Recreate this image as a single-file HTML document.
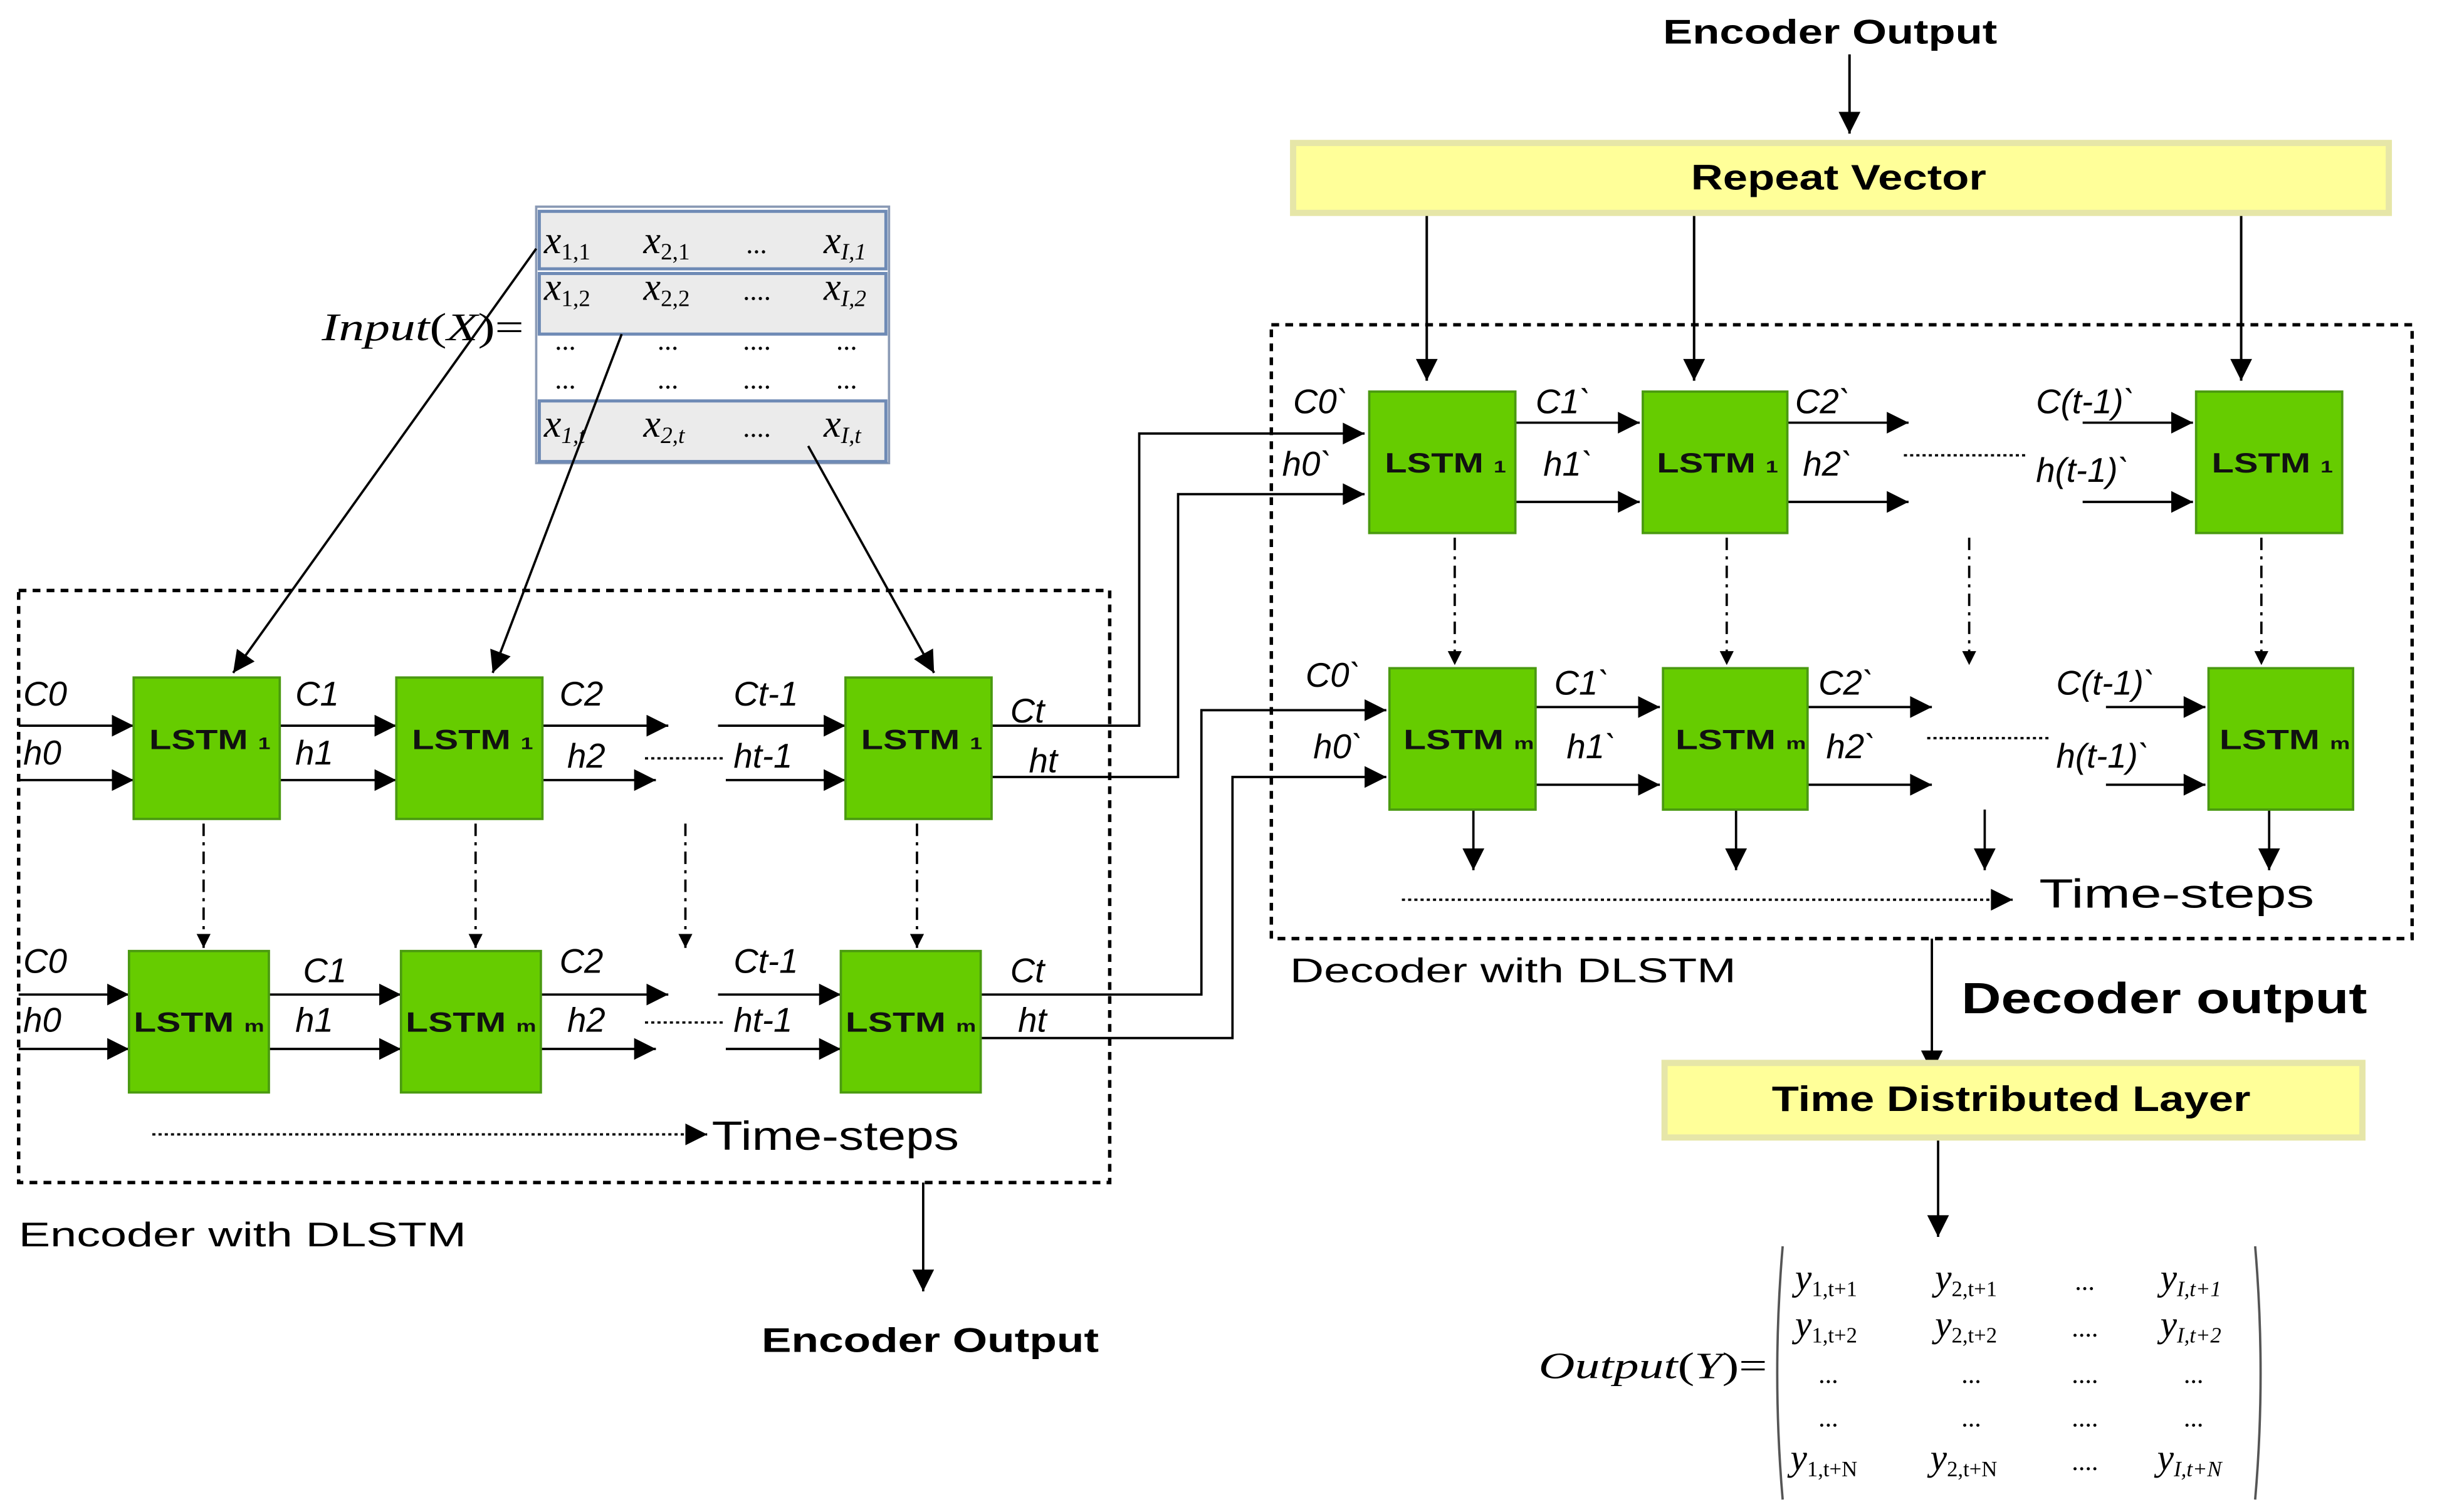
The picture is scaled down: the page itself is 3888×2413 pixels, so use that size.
<!DOCTYPE html>
<html><head><meta charset="utf-8"><style>html,body{margin:0;padding:0;background:#fff}svg{display:block}</style></head><body>
<svg width="3888" height="2413" viewBox="0 0 1568 973" preserveAspectRatio="none" xmlns="http://www.w3.org/2000/svg" font-family="Liberation Sans, sans-serif">
<defs>
<marker id="a" viewBox="0 0 10 10" refX="10" refY="5" markerWidth="11" markerHeight="9" orient="auto" markerUnits="userSpaceOnUse"><path d="M0,0L10,5L0,10z" fill="#000"/></marker>
<marker id="b" viewBox="0 0 10 10" refX="10" refY="5" markerWidth="26" markerHeight="14" orient="auto" markerUnits="userSpaceOnUse"><path d="M0,0L10,5L0,10z" fill="#000"/></marker>
</defs>
<g stroke="#000" stroke-width="1.6" fill="none">
<line x1="1190" y1="35" x2="1190" y2="86" marker-end="url(#b)"/>
<line x1="918" y1="137" x2="918" y2="245" marker-end="url(#b)"/>
<line x1="1090" y1="137" x2="1090" y2="245" marker-end="url(#b)"/>
<line x1="1442" y1="137" x2="1442" y2="245" marker-end="url(#b)"/>
</g>
<rect x="832" y="92" width="705" height="45" fill="#ffff99" stroke="#e6e6a8" stroke-width="4"/>
<text x="1088" y="122" textLength="190" lengthAdjust="spacingAndGlyphs" font-weight="bold" font-size="23">Repeat Vector</text>
<text x="1070" y="28" textLength="215" lengthAdjust="spacingAndGlyphs" font-weight="bold" font-size="22">Encoder Output</text>
<rect x="818" y="209" width="734" height="395" fill="none" stroke="#000" stroke-width="2.2" stroke-dasharray="5,4"/>
<rect x="12" y="380" width="702" height="381" fill="none" stroke="#000" stroke-width="2.2" stroke-dasharray="5,4"/>
<rect x="345" y="133" width="227" height="165" fill="#fff" stroke="#8a9ab5" stroke-width="1.5"/>
<rect x="347" y="136" width="223" height="37" fill="#ebebeb" stroke="#6e8ab5" stroke-width="2"/>
<rect x="347" y="176" width="223" height="39" fill="#ebebeb" stroke="#6e8ab5" stroke-width="2"/>
<rect x="347" y="258" width="223" height="39" fill="#ebebeb" stroke="#6e8ab5" stroke-width="2"/>
<g font-family="Liberation Serif, serif" font-style="italic" font-size="25">
<text x="350" y="163">x<tspan font-size="15" font-style="normal" dy="4">1,1</tspan></text>
<text x="414" y="163">x<tspan font-size="15" font-style="normal" dy="4">2,1</tspan></text>
<text x="480" y="163" font-style="normal" font-size="18">...</text>
<text x="530" y="163">x<tspan font-size="15" dy="4">I,1</tspan></text>
<text x="350" y="193">x<tspan font-size="15" font-style="normal" dy="4">1,2</tspan></text>
<text x="414" y="193">x<tspan font-size="15" font-style="normal" dy="4">2,2</tspan></text>
<text x="478" y="193" font-style="normal" font-size="18">....</text>
<text x="530" y="193">x<tspan font-size="15" dy="4">I,2</tspan></text>
<text x="357" y="225" font-style="normal" font-size="18">...</text><text x="423" y="225" font-style="normal" font-size="18">...</text><text x="478" y="225" font-style="normal" font-size="18">....</text><text x="538" y="225" font-style="normal" font-size="18">...</text>
<text x="357" y="250" font-style="normal" font-size="18">...</text><text x="423" y="250" font-style="normal" font-size="18">...</text><text x="478" y="250" font-style="normal" font-size="18">....</text><text x="538" y="250" font-style="normal" font-size="18">...</text>
<text x="350" y="281">x<tspan font-size="15" dy="4">1,t</tspan></text>
<text x="414" y="281">x<tspan font-size="15" dy="4">2,t</tspan></text>
<text x="478" y="281" font-style="normal" font-size="18">....</text>
<text x="530" y="281">x<tspan font-size="15" dy="4">I,t</tspan></text>
<text x="207" y="219" textLength="130" lengthAdjust="spacingAndGlyphs">Input<tspan font-style="normal">(</tspan>X<tspan font-style="normal">)=</tspan></text>
</g>
<g stroke="#000" stroke-width="1.5" fill="none">
<line x1="345" y1="160" x2="150" y2="433" marker-end="url(#b)"/>
<line x1="400" y1="215" x2="317" y2="433" marker-end="url(#b)"/>
<line x1="520" y1="287" x2="601" y2="433" marker-end="url(#b)"/>
<line x1="12" y1="467" x2="86" y2="467" marker-end="url(#b)"/>
<line x1="12" y1="502" x2="86" y2="502" marker-end="url(#b)"/>
<line x1="180" y1="467" x2="255" y2="467" marker-end="url(#b)"/>
<line x1="180" y1="502" x2="255" y2="502" marker-end="url(#b)"/>
<line x1="349" y1="467" x2="430" y2="467" marker-end="url(#b)"/>
<line x1="349" y1="502" x2="422" y2="502" marker-end="url(#b)"/>
<line x1="462" y1="467" x2="544" y2="467" marker-end="url(#b)"/>
<line x1="467" y1="502" x2="544" y2="502" marker-end="url(#b)"/>
<line x1="415" y1="488" x2="465" y2="488" stroke-dasharray="2,2"/>
<line x1="12" y1="640" x2="83" y2="640" marker-end="url(#b)"/>
<line x1="12" y1="675" x2="83" y2="675" marker-end="url(#b)"/>
<line x1="173" y1="640" x2="258" y2="640" marker-end="url(#b)"/>
<line x1="173" y1="675" x2="258" y2="675" marker-end="url(#b)"/>
<line x1="348" y1="640" x2="430" y2="640" marker-end="url(#b)"/>
<line x1="348" y1="675" x2="422" y2="675" marker-end="url(#b)"/>
<line x1="462" y1="640" x2="541" y2="640" marker-end="url(#b)"/>
<line x1="467" y1="675" x2="541" y2="675" marker-end="url(#b)"/>
<line x1="415" y1="658" x2="465" y2="658" stroke-dasharray="2,2"/>
<g stroke-dasharray="8,4,2,4">
<line x1="131" y1="530" x2="131" y2="610" marker-end="url(#a)"/>
<line x1="306" y1="530" x2="306" y2="610" marker-end="url(#a)"/>
<line x1="441" y1="530" x2="441" y2="610" marker-end="url(#a)"/>
<line x1="590" y1="530" x2="590" y2="610" marker-end="url(#a)"/>
<line x1="936" y1="346" x2="936" y2="428" marker-end="url(#a)"/>
<line x1="1111" y1="346" x2="1111" y2="428" marker-end="url(#a)"/>
<line x1="1267" y1="346" x2="1267" y2="428" marker-end="url(#a)"/>
<line x1="1455" y1="346" x2="1455" y2="428" marker-end="url(#a)"/>
</g>
<line x1="98" y1="730" x2="455" y2="730" stroke-dasharray="2,2" marker-end="url(#b)"/>
<line x1="902" y1="579" x2="1295" y2="579" stroke-dasharray="2,2" marker-end="url(#b)"/>
<polyline points="638,467 733,467 733,279 878,279" marker-end="url(#b)"/>
<polyline points="638,500 758,500 758,318 878,318" marker-end="url(#b)"/>
<polyline points="631,640 773,640 773,457 892,457" marker-end="url(#b)"/>
<polyline points="631,668 793,668 793,500 892,500" marker-end="url(#b)"/>
<line x1="975" y1="272" x2="1055" y2="272" marker-end="url(#b)"/>
<line x1="975" y1="323" x2="1055" y2="323" marker-end="url(#b)"/>
<line x1="1150" y1="272" x2="1228" y2="272" marker-end="url(#b)"/>
<line x1="1150" y1="323" x2="1228" y2="323" marker-end="url(#b)"/>
<line x1="1340" y1="272" x2="1411" y2="272" marker-end="url(#b)"/>
<line x1="1340" y1="323" x2="1411" y2="323" marker-end="url(#b)"/>
<line x1="1225" y1="293" x2="1305" y2="293" stroke-dasharray="2,2"/>
<line x1="988" y1="455" x2="1068" y2="455" marker-end="url(#b)"/>
<line x1="988" y1="505" x2="1068" y2="505" marker-end="url(#b)"/>
<line x1="1163" y1="455" x2="1243" y2="455" marker-end="url(#b)"/>
<line x1="1163" y1="505" x2="1243" y2="505" marker-end="url(#b)"/>
<line x1="1355" y1="455" x2="1419" y2="455" marker-end="url(#b)"/>
<line x1="1355" y1="505" x2="1419" y2="505" marker-end="url(#b)"/>
<line x1="1240" y1="475" x2="1320" y2="475" stroke-dasharray="2,2"/>
<line x1="948" y1="521" x2="948" y2="560" marker-end="url(#b)"/>
<line x1="1117" y1="521" x2="1117" y2="560" marker-end="url(#b)"/>
<line x1="1277" y1="521" x2="1277" y2="560" marker-end="url(#b)"/>
<line x1="1460" y1="521" x2="1460" y2="560" marker-end="url(#b)"/>
<line x1="1243" y1="604" x2="1243" y2="690" marker-end="url(#b)"/>
<line x1="1247" y1="732" x2="1247" y2="796" marker-end="url(#b)"/>
<line x1="594" y1="761" x2="594" y2="831" marker-end="url(#b)"/>
</g>
<g fill="#66cc00" stroke="#4a9a10" stroke-width="1.5">
<rect x="86" y="436" width="94" height="91"/><rect x="255" y="436" width="94" height="91"/><rect x="544" y="436" width="94" height="91"/>
<rect x="83" y="612" width="90" height="91"/><rect x="258" y="612" width="90" height="91"/><rect x="541" y="612" width="90" height="91"/>
<rect x="881" y="252" width="94" height="91"/><rect x="1057" y="252" width="93" height="91"/><rect x="1413" y="252" width="94" height="91"/>
<rect x="894" y="430" width="94" height="91"/><rect x="1070" y="430" width="93" height="91"/><rect x="1421" y="430" width="93" height="91"/>
</g>
<g font-weight="bold" font-size="18" fill="#111" lengthAdjust="spacingAndGlyphs">
<text x="96" y="482" textLength="78" lengthAdjust="spacingAndGlyphs">LSTM <tspan font-size="11">1</tspan></text>
<text x="265" y="482" textLength="78" lengthAdjust="spacingAndGlyphs">LSTM <tspan font-size="11">1</tspan></text>
<text x="554" y="482" textLength="78" lengthAdjust="spacingAndGlyphs">LSTM <tspan font-size="11">1</tspan></text>
<text x="86" y="664" textLength="84" lengthAdjust="spacingAndGlyphs">LSTM <tspan font-size="11">m</tspan></text>
<text x="261" y="664" textLength="84" lengthAdjust="spacingAndGlyphs">LSTM <tspan font-size="11">m</tspan></text>
<text x="544" y="664" textLength="84" lengthAdjust="spacingAndGlyphs">LSTM <tspan font-size="11">m</tspan></text>
<text x="891" y="304" textLength="78" lengthAdjust="spacingAndGlyphs">LSTM <tspan font-size="11">1</tspan></text>
<text x="1066" y="304" textLength="78" lengthAdjust="spacingAndGlyphs">LSTM <tspan font-size="11">1</tspan></text>
<text x="1423" y="304" textLength="78" lengthAdjust="spacingAndGlyphs">LSTM <tspan font-size="11">1</tspan></text>
<text x="903" y="482" textLength="84" lengthAdjust="spacingAndGlyphs">LSTM <tspan font-size="11">m</tspan></text>
<text x="1078" y="482" textLength="84" lengthAdjust="spacingAndGlyphs">LSTM <tspan font-size="11">m</tspan></text>
<text x="1428" y="482" textLength="84" lengthAdjust="spacingAndGlyphs">LSTM <tspan font-size="11">m</tspan></text>
</g>
<g font-style="italic" font-size="22">
<text x="15" y="454">C0</text><text x="15" y="492">h0</text>
<text x="190" y="454">C1</text><text x="190" y="492">h1</text>
<text x="360" y="454">C2</text><text x="365" y="494">h2</text>
<text x="472" y="454">Ct-1</text><text x="472" y="494">ht-1</text>
<text x="650" y="465">Ct</text><text x="662" y="497">ht</text>
<text x="15" y="626">C0</text><text x="15" y="664">h0</text>
<text x="195" y="632">C1</text><text x="190" y="664">h1</text>
<text x="360" y="626">C2</text><text x="365" y="664">h2</text>
<text x="472" y="626">Ct-1</text><text x="472" y="664">ht-1</text>
<text x="650" y="632">Ct</text><text x="655" y="664">ht</text>
<text x="832" y="266">C0`</text><text x="825" y="306">h0`</text>
<text x="988" y="266">C1`</text><text x="993" y="306">h1`</text>
<text x="1155" y="266">C2`</text><text x="1160" y="306">h2`</text>
<text x="1310" y="266">C(t-1)`</text><text x="1310" y="310">h(t-1)`</text>
<text x="840" y="442">C0`</text><text x="845" y="488">h0`</text>
<text x="1000" y="447">C1`</text><text x="1008" y="488">h1`</text>
<text x="1170" y="447">C2`</text><text x="1175" y="488">h2`</text>
<text x="1323" y="447">C(t-1)`</text><text x="1323" y="494">h(t-1)`</text>
</g>
<text x="458" y="740" font-size="26" textLength="159" lengthAdjust="spacingAndGlyphs">Time-steps</text>
<text x="1312" y="584" font-size="26" textLength="177" lengthAdjust="spacingAndGlyphs">Time-steps</text>
<text x="12" y="802" font-size="22" textLength="288" lengthAdjust="spacingAndGlyphs">Encoder with DLSTM</text>
<text x="830" y="632" font-size="22" textLength="287" lengthAdjust="spacingAndGlyphs">Decoder with DLSTM</text>
<text x="1262" y="652" font-size="28" font-weight="bold" textLength="261" lengthAdjust="spacingAndGlyphs">Decoder output</text>
<text x="490" y="870" font-size="22" font-weight="bold" textLength="217" lengthAdjust="spacingAndGlyphs">Encoder Output</text>
<rect x="1071" y="684" width="449" height="48" fill="#ffff99" stroke="#e6e6a8" stroke-width="4"/>
<text x="1140" y="715" font-weight="bold" font-size="23" textLength="308" lengthAdjust="spacingAndGlyphs">Time Distributed Layer</text>
<g fill="none" stroke="#555" stroke-width="1.5">
<path d="M1147,802 Q1140,884 1147,965"/><path d="M1451,802 Q1458,884 1451,965"/>
</g>
<g font-family="Liberation Serif, serif" font-style="italic" font-size="24">
<text x="990" y="887" textLength="147" lengthAdjust="spacingAndGlyphs">Output<tspan font-style="normal">(</tspan>Y<tspan font-style="normal">)=</tspan></text>
<text x="1155" y="830">y<tspan font-size="14" font-style="normal" dy="4">1,t+1</tspan></text>
<text x="1245" y="830">y<tspan font-size="14" font-style="normal" dy="4">2,t+1</tspan></text>
<text x="1335" y="830" font-style="normal" font-size="17">...</text>
<text x="1390" y="830">y<tspan font-size="14" dy="4">I,t+1</tspan></text>
<text x="1155" y="860">y<tspan font-size="14" font-style="normal" dy="4">1,t+2</tspan></text>
<text x="1245" y="860">y<tspan font-size="14" font-style="normal" dy="4">2,t+2</tspan></text>
<text x="1333" y="860" font-style="normal" font-size="17">....</text>
<text x="1390" y="860">y<tspan font-size="14" dy="4">I,t+2</tspan></text>
<g font-style="normal" font-size="17">
<text x="1170" y="890">...</text><text x="1262" y="890">...</text><text x="1333" y="890">....</text><text x="1405" y="890">...</text>
<text x="1170" y="918">...</text><text x="1262" y="918">...</text><text x="1333" y="918">....</text><text x="1405" y="918">...</text>
<text x="1333" y="946">....</text>
</g>
<text x="1152" y="946">y<tspan font-size="14" font-style="normal" dy="4">1,t+N</tspan></text>
<text x="1242" y="946">y<tspan font-size="14" font-style="normal" dy="4">2,t+N</tspan></text>
<text x="1388" y="946">y<tspan font-size="14" dy="4">I,t+N</tspan></text>
</g>
</svg>
</body></html>
